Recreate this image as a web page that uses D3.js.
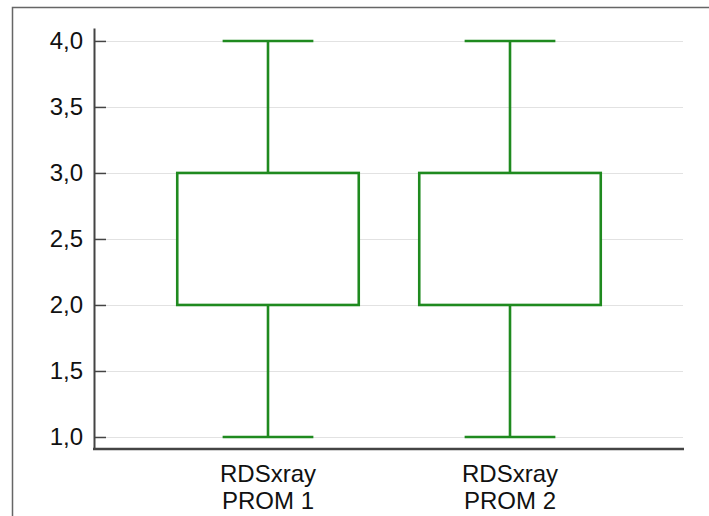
<!DOCTYPE html>
<html><head><meta charset="utf-8">
<script src="https://cdn.jsdelivr.net/npm/d3@7"></script>
<style>body{margin:0;background:#fff}svg{display:block}</style>
</head><body>
<script>
const categories = [["RDSxray","PROM 1"],["RDSxray","PROM 2"]];
const whiskerLow = [1.0, 1.0];
const q1 = [2.0, 2.0];
const q3 = [3.0, 3.0];
const whiskerHigh = [4.0, 4.0];
const yTicks = [1.0,1.5,2.0,2.5,3.0,3.5,4.0];

(function(){
const W=709,H=516;
const svg=d3.select("body").append("svg").attr("width",W).attr("height",H);
svg.append("rect").attr("width",W).attr("height",H).attr("fill","#fff");
svg.append("rect").attr("x",12.5).attr("y",7.5).attr("width",720).attr("height",520)
  .attr("fill","none").attr("stroke","#666").attr("stroke-width",1.5);

const pL=94,pR=684,pT=28,pB=449;
const y=d3.scaleLinear().domain([0.909,4.098]).range([pB,pT]);
const x=d3.scalePoint().domain(categories.map((d,i)=>i)).range([pL,pR]).padding(0.719);
const step=x.step();
const green="#1f8a1f";
const font="Arial, 'Liberation Sans', sans-serif";

// gridlines
svg.append("g").selectAll("line").data(yTicks).join("line")
  .attr("x1",pL+12).attr("x2",pR-1).attr("y1",d=>Math.round(y(d))+0.5).attr("y2",d=>Math.round(y(d))+0.5)
  .attr("stroke","#e2e2e2").attr("stroke-width",1);

// y axis
const ya=svg.append("g").attr("transform",`translate(${pL},0)`)
  .call(d3.axisLeft(y).tickValues(yTicks).tickSize(-12).tickSizeOuter(0).tickPadding(11)
    .tickFormat(d=>d3.format(".1f")(d).replace(".",",")));
ya.select(".domain").attr("stroke","#444").attr("stroke-width",2);
ya.selectAll(".tick line").attr("stroke","#444").attr("stroke-width",1.5);
ya.selectAll(".tick text").attr("font-family",font).attr("font-size",24).attr("fill","#111");

// x axis
const xa=svg.append("g").attr("transform",`translate(0,${pB})`)
  .call(d3.axisBottom(x).tickSize(0).tickFormat(""));
xa.select(".domain").attr("stroke","#444").attr("stroke-width",2.5).attr("d",`M${pL-1},0H${pR}`);
categories.forEach((c,i)=>{
  const t=svg.append("text").attr("x",x(i)).attr("text-anchor","middle")
    .attr("font-family",font).attr("font-size",24).attr("fill","#111");
  c.forEach((s,j)=>t.append("tspan").attr("x",x(i)).attr("y",482+j*26.5).text(s));
});

// boxes
const bw=step*0.75, ww=step*0.375;
categories.forEach((c,i)=>{
  const cx=x(i);
  const g=svg.append("g").attr("stroke",green).attr("stroke-width",2.6).attr("fill","none");
  g.append("line").attr("x1",cx).attr("x2",cx).attr("y1",y(whiskerHigh[i])).attr("y2",y(q3[i]));
  g.append("line").attr("x1",cx).attr("x2",cx).attr("y1",y(q1[i])).attr("y2",y(whiskerLow[i]));
  g.append("line").attr("x1",cx-ww/2).attr("x2",cx+ww/2).attr("y1",y(whiskerHigh[i])).attr("y2",y(whiskerHigh[i]));
  g.append("line").attr("x1",cx-ww/2).attr("x2",cx+ww/2).attr("y1",y(whiskerLow[i])).attr("y2",y(whiskerLow[i]));
  g.append("rect").attr("x",cx-bw/2).attr("width",bw).attr("y",y(q3[i])).attr("height",y(q1[i])-y(q3[i])).attr("fill","#fff");
});
})();
</script>
</body></html>
